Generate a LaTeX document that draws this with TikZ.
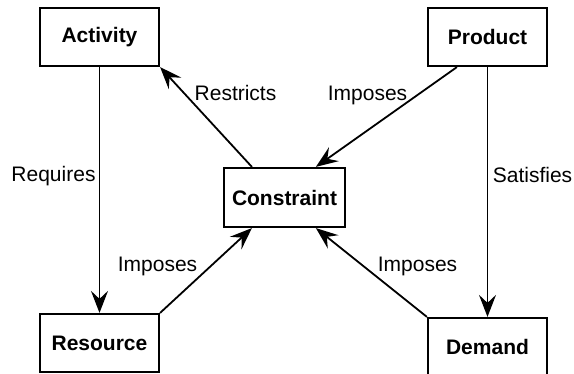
\documentclass[tikz,border=0pt]{standalone}
\usepackage{fontspec}
\setmainfont{Liberation Sans}
\usetikzlibrary{arrows.meta,calc}
\begin{document}
\begin{tikzpicture}[x=1pt,y=-1pt,
 box/.style={draw,line width=2.2pt,minimum width=119pt,minimum height=58pt,inner sep=0pt,font=\fontsize{21}{24}\selectfont\bfseries},
 lbl/.style={font=\fontsize{21}{24}\selectfont, inner sep=0pt, anchor=base},
 arr/.style={line width=1.8pt,-{Stealth[length=22pt,width=17pt,inset=8pt]}}]
\useasboundingbox (0,0) rectangle (574,374);
\node[box] (act) at (99.5,37) {Activity};
\node[box] (prod) at (487.5,37) {Product};
\node[box,minimum width=121pt,minimum height=59pt] (con) at (284.5,197.5) {Constraint};
\node[box] (res) at (99.5,343) {Resource};
\node[box] (dem) at (487.5,347) {Demand};
\draw[arr] (act.south) -- (res.north);
\draw[arr] (prod.south) -- (dem.north);
\draw[arr] ($(con.north west)+(29,0)$) -- (act.south east);
\draw[arr] ($(prod.south west)+(30,0)$) -- ($(con.north west)+(93,0)$);
\draw[arr] (res.north east) -- ($(con.south west)+(29,0)$);
\draw[arr] (dem.north west) -- ($(con.south west)+(93,0)$);
\node[lbl] (l1) at (235.5,101) {Restricts};
\node[lbl] (l2) at (367.5,101) {Imposes};
\node[lbl] (l3) at (53.5,182) {Requires};
\node[lbl] (l4) at (532.5,183) {Satisfies};
\node[lbl] (l5) at (157.5,272) {Imposes};
\node[lbl] (l6) at (417.5,272) {Imposes};
\end{tikzpicture}
\end{document}
